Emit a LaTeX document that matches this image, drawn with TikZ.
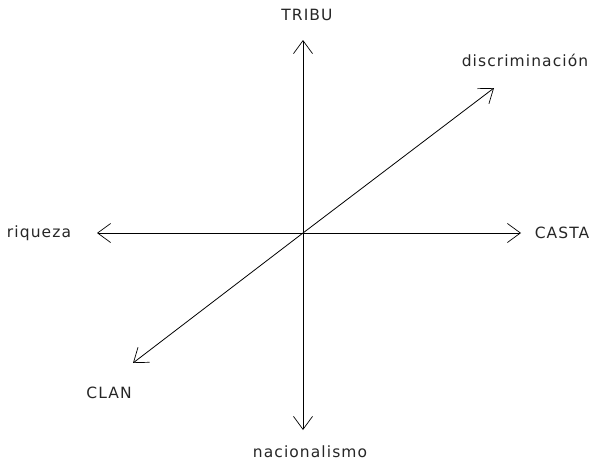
\documentclass[tikz,border=0pt]{standalone}
\usepackage{fontspec}
\setmainfont{DejaVu Sans}[LetterSpace=7]
\usetikzlibrary{arrows.meta}
\begin{document}
\begin{tikzpicture}[x=1pt,y=-1pt,
  axis/.style={line width=0.8pt,-{Straight Barb[length=13pt,width=19pt,line width=0.7pt]}},
  lab/.style={font=\fontsize{15.5}{17}\selectfont,text=black!85,inner sep=0pt}]
\useasboundingbox (0,0) rectangle (594,463);
\coordinate (O) at (303,233);
\coordinate (N) at (303,40);
\coordinate (S) at (303,430);
\coordinate (W) at (97,233);
\coordinate (E) at (521,233);
\coordinate (NE) at (494,88);
\coordinate (SW) at (133,363);
\draw[axis] (O) -- (N);
\draw[axis] (O) -- (S);
\draw[axis] (O) -- (W);
\draw[axis] (O) -- (E);
\draw[axis] (O) -- (NE);
\draw[axis] (O) -- (SW);
\node[lab] (tribu) at (307,15) {TRIBU};
\node[lab] (disc) at (525,60) {discriminación};
\node[lab] (riq) at (39,233) {riqueza};
\node[lab] (casta) at (562,233) {CASTA};
\node[lab] (clan) at (109,393) {CLAN};
\node[lab] (nac) at (310,452) {nacionalismo};
\end{tikzpicture}
\end{document}
